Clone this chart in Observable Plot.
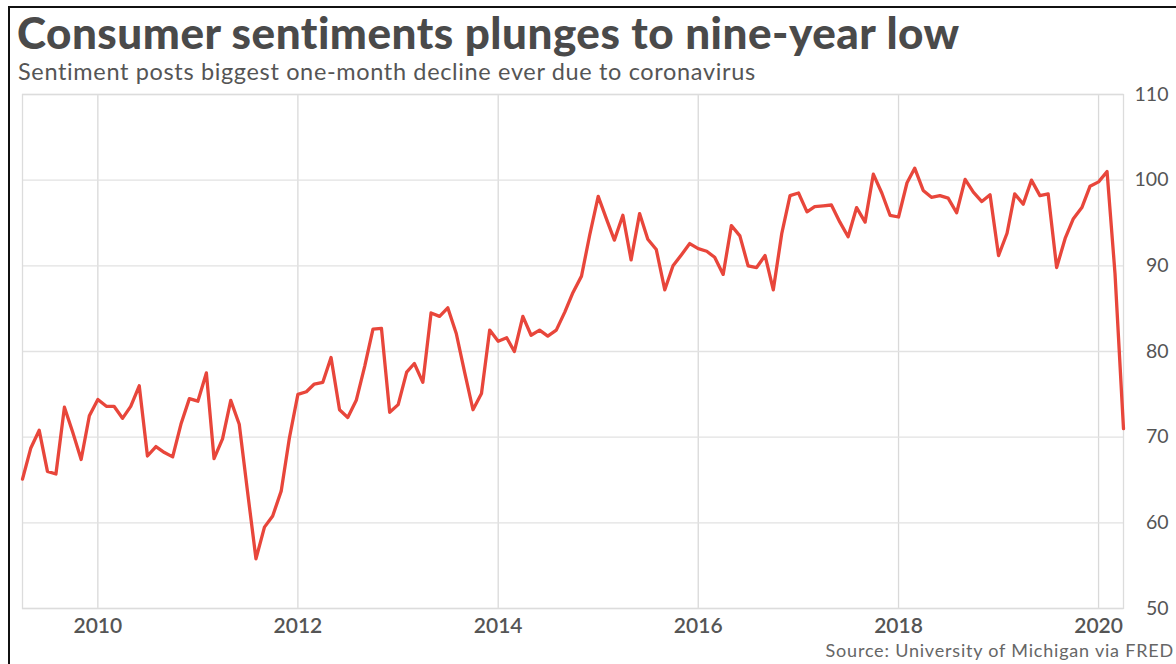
<!DOCTYPE html>
<html>
<head>
<meta charset="utf-8">
<script src="https://cdn.jsdelivr.net/npm/d3@7"></script>
<script src="https://cdn.jsdelivr.net/npm/@observablehq/plot@0.6"></script>
<style>
  html, body { margin: 0; padding: 0; background: #fff; }
  #wrap { position: relative; width: 1176px; height: 664px; overflow: hidden; font-family: Lato, "Open Sans", sans-serif; }
  #frame { position: absolute; left: 8px; top: 6px; width: 1200px; height: 700px; border-left: 2px solid #111; border-top: 2px solid #111; }
  #title { position: absolute; left: 17px; top: 6px; font-size: 44px; font-weight: 900; color: #4a4a4a; white-space: nowrap; letter-spacing: 0.5px; }
  #subtitle { position: absolute; left: 18px; top: 57px; font-size: 23.5px; color: #555; white-space: nowrap; letter-spacing: 0.65px; }
  #source { position: absolute; right: 2px; top: 639px; font-size: 18px; color: #666; white-space: nowrap; letter-spacing: 0.8px; }
  #chart { position: absolute; left: 0; top: 0; }
</style>
</head>
<body>
<div id="wrap">
  <div id="chart"></div>
  <div id="frame"></div>
  <div id="title">Consumer sentiments plunges to nine-year low</div>
  <div id="subtitle">Sentiment posts biggest one-month decline ever due to coronavirus</div>
  <div id="source">Source: University of Michigan via FRED</div>
</div>
<script>
// University of Michigan consumer sentiment, monthly, April 2009 – April 2020
const startMonth = "2009-04";
const sentiment = [
  65.1, 68.7, 70.8, 66.0, 65.7, 73.5, 70.6, 67.4, 72.5,                 // 2009 Apr–Dec
  74.4, 73.6, 73.6, 72.2, 73.6, 76.0, 67.8, 68.9, 68.2, 67.7, 71.6, 74.5, // 2010
  74.2, 77.5, 67.5, 69.8, 74.3, 71.5, 63.7, 55.8, 59.5, 60.8, 63.7, 69.9, // 2011
  75.0, 75.3, 76.2, 76.4, 79.3, 73.2, 72.3, 74.3, 78.3, 82.6, 82.7, 72.9, // 2012
  73.8, 77.6, 78.6, 76.4, 84.5, 84.1, 85.1, 82.1, 77.5, 73.2, 75.1, 82.5, // 2013
  81.2, 81.6, 80.0, 84.1, 81.9, 82.5, 81.8, 82.5, 84.6, 86.9, 88.8, 93.6, // 2014
  98.1, 95.4, 93.0, 95.9, 90.7, 96.1, 93.1, 91.9, 87.2, 90.0, 91.3, 92.6, // 2015
  92.0, 91.7, 91.0, 89.0, 94.7, 93.5, 90.0, 89.8, 91.2, 87.2, 93.8, 98.2, // 2016
  98.5, 96.3, 96.9, 97.0, 97.1, 95.1, 93.4, 96.8, 95.1, 100.7, 98.5, 95.9, // 2017
  95.7, 99.7, 101.4, 98.8, 98.0, 98.2, 97.9, 96.2, 100.1, 98.6, 97.5, 98.3, // 2018
  91.2, 93.8, 98.4, 97.2, 100.0, 98.2, 98.4, 89.8, 93.2, 95.5, 96.8, 99.3, // 2019
  99.8, 101.0, 89.1, 71.0                                                 // 2020 Jan–Apr
];
const yearTicks = ["2010", "2012", "2014", "2016", "2018", "2020"];
const valueTicks = [50, 60, 70, 80, 90, 100, 110];

const start = d3.utcParse("%Y-%m")(startMonth);
const data = sentiment.map((v, i) => ({date: d3.utcMonth.offset(start, i), value: v}));
const xTicks = yearTicks.map(y => d3.utcParse("%Y")(y));

const chart = Plot.plot({
  width: 1176,
  height: 664,
  marginTop: 94,
  marginBottom: 56,
  marginLeft: 22,
  marginRight: 53,
  style: {fontFamily: "Lato, 'Open Sans', sans-serif", background: "transparent"},
  x: {type: "utc", domain: [data[0].date, data[data.length - 1].date]},
  y: {domain: [50, 110]},
  marks: [
    Plot.gridX(xTicks, {stroke: "#d9d9d9", strokeOpacity: 1, strokeWidth: 1.3}),
    Plot.gridY(valueTicks, {stroke: "#e2e2e2", strokeOpacity: 1, strokeWidth: 1.3}),
    Plot.frame({stroke: "#dcdcdc", strokeWidth: 1.3}),
    Plot.axisX(xTicks, {tickSize: 0, tickPadding: 10, tickFormat: d3.utcFormat("%Y"), fontSize: 21, fill: "#555", fontWeight: 600, label: null}),
    Plot.axisY(valueTicks, {anchor: "right", tickSize: 0, tickPadding: 0, textAnchor: "end", dx: 45, fontSize: 19.5, fill: "#555", label: null}),
    Plot.line(data, {x: "date", y: "value", stroke: "#e8463b", strokeWidth: 3.3, strokeLinejoin: "round"})
  ]
});
document.getElementById("chart").appendChild(chart);
</script>
</body>
</html>
